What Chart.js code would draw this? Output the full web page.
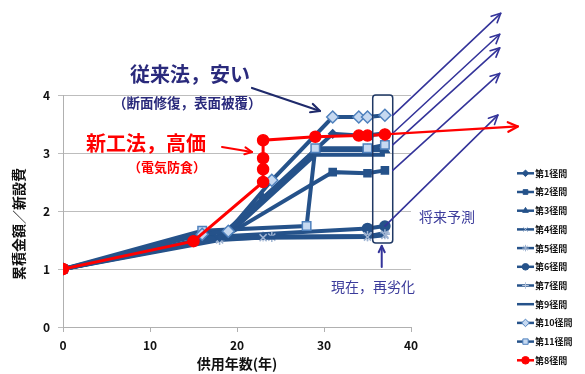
<!DOCTYPE html>
<html>
<head>
<meta charset="utf-8">
<script src="https://cdn.jsdelivr.net/npm/chart.js@4"></script>
<style>
  html, body { margin: 0; padding: 0; background: #fff; }
  #wrap { width: 585px; height: 374px; }
</style>
</head>
<body>
<div id="wrap"><canvas id="c" width="585" height="374"></canvas></div>
<script>
// Cumulative repair cost / construction cost by span, against years in service
const spanNames = ['第1径間','第2径間','第3径間','第4径間','第5径間','第6径間','第7径間','第9径間','第10径間','第11径間','第8径間'];

const years1  = [0, 18, 23, 31, 34, 35, 37];
const cost1   = [1, 1.55, 2.23, 3.33, 3.30, 3.30, 3.34];
const years2  = [0, 19, 31, 35, 37];
const cost2   = [1, 1.60, 2.67, 2.65, 2.70];
const years3  = [0, 19, 29, 35, 37];
const cost3   = [1, 1.60, 3.05, 3.05, 3.05];
const years4  = [0, 18, 23, 35, 37];
const cost4   = [1, 1.52, 1.54, 1.55, 1.58];
const years5  = [0, 18, 24, 35, 37];
const cost5   = [1, 1.50, 1.55, 1.57, 1.60];
const years6  = [0, 17, 35, 37];
const cost6   = [1, 1.55, 1.70, 1.74];
const years7  = [0, 18, 23, 35, 37];
const cost7   = [1, 1.55, 1.56, 1.56, 1.62];
const years9  = [0, 19, 29, 35, 37];
const cost9   = [1, 1.60, 2.97, 2.97, 2.97];
const years10 = [0, 16, 19, 24, 31, 34, 35, 37];
const cost10  = [1, 1.60, 1.65, 2.53, 3.62, 3.62, 3.62, 3.65];
const years11 = [0, 16, 28, 29, 35, 37];
const cost11  = [1, 1.66, 1.74, 3.08, 3.08, 3.14];
const years8  = [0, 15, 23, 23, 23, 23, 29, 34, 35, 37];
const cost8   = [1, 1.48, 2.50, 2.72, 2.91, 3.22, 3.28, 3.30, 3.30, 3.32];

const xTicks = [0, 10, 20, 30, 40];
const yTicks = [0, 1, 2, 3, 4];

const FONT = '"Noto Sans CJK JP", "Noto Sans", sans-serif';
const NAVY = '#25528a';
const LIGHT = '#c6d9f1';
const LIGHT_EDGE = '#4f81bd';

const pts = (xs, ys) => xs.map((x, i) => ({ x, y: ys[i] }));

const datasets = [
  { label: spanNames[0],  data: pts(years1, cost1),   pointStyle: 'rectRot',  pointRadius: 4, backgroundColor: NAVY, borderColor: NAVY, order: 3 },
  { label: spanNames[1],  data: pts(years2, cost2),   pointStyle: 'rect',     pointRadius: 5, backgroundColor: NAVY, borderColor: NAVY, order: 3 },
  { label: spanNames[2],  data: pts(years3, cost3),   pointStyle: 'triangle', pointRadius: 5, backgroundColor: NAVY, borderColor: NAVY, order: 3 },
  { label: spanNames[3],  data: pts(years4, cost4),   pointStyle: 'crossRot', pointRadius: 5, backgroundColor: NAVY, borderColor: NAVY, pointBorderColor: '#9fb4d2', order: 3 },
  { label: spanNames[4],  data: pts(years5, cost5),   pointStyle: 'star',     pointRadius: 5, backgroundColor: NAVY, borderColor: NAVY, pointBorderColor: '#9fb4d2', order: 3 },
  { label: spanNames[5],  data: pts(years6, cost6),   pointStyle: 'circle',   pointRadius: 5, backgroundColor: NAVY, borderColor: NAVY, order: 3 },
  { label: spanNames[6],  data: pts(years7, cost7),   pointStyle: 'cross',    pointRadius: 5, backgroundColor: NAVY, borderColor: NAVY, pointBorderColor: '#b4c5de', order: 3 },
  { label: spanNames[7],  data: pts(years9, cost9),   pointStyle: 'circle',   pointRadius: 0, backgroundColor: NAVY, borderColor: NAVY, order: 3 },
  { label: spanNames[8],  data: pts(years10, cost10), pointStyle: 'rectRot',  pointRadius: 6, backgroundColor: LIGHT, borderColor: NAVY, pointBorderColor: LIGHT_EDGE, order: 1 },
  { label: spanNames[9],  data: pts(years11, cost11), pointStyle: 'rect',     pointRadius: 6, backgroundColor: LIGHT, borderColor: NAVY, pointBorderColor: LIGHT_EDGE, order: 2 },
  { label: spanNames[10], data: pts(years8, cost8),   pointStyle: 'circle',   pointRadius: 5.5, backgroundColor: '#ff0000', borderColor: '#ff0000', order: 0, borderWidth: 3 }
].map(d => Object.assign({
  showLine: true,
  tension: 0,
  borderWidth: 4,
  pointBorderWidth: 1.5,
  pointBackgroundColor: d.backgroundColor,
  pointBorderColor: d.pointBorderColor || d.borderColor
}, d));

function arrow(ctx, x1, y1, x2, y2, color, lw, head) {
  const a = Math.atan2(y2 - y1, x2 - x1);
  ctx.strokeStyle = color;
  ctx.lineWidth = lw;
  ctx.lineCap = 'round';
  ctx.lineJoin = 'round';
  ctx.beginPath();
  ctx.moveTo(x1, y1);
  ctx.lineTo(x2, y2);
  ctx.stroke();
  ctx.beginPath();
  ctx.moveTo(x2 - head * Math.cos(a - 0.45), y2 - head * Math.sin(a - 0.45));
  ctx.lineTo(x2, y2);
  ctx.lineTo(x2 - head * Math.cos(a + 0.45), y2 - head * Math.sin(a + 0.45));
  ctx.stroke();
}

// Callouts, the "now" frame and the forecast arrows
const notes = {
  id: 'notes',
  afterDatasetsDraw(chart) {
    const ctx = chart.ctx;
    const xs = chart.scales.x, ys = chart.scales.y;
    const px = v => xs.getPixelForValue(v), py = v => ys.getPixelForValue(v);
    ctx.save();

    // frame around the present year
    const rl = px(35.6), rr = px(37.9), rt = py(4.0), rb = py(1.45);
    ctx.strokeStyle = '#1f3864';
    ctx.lineWidth = 1.5;
    ctx.beginPath();
    ctx.roundRect(rl, rt, rr - rl, rb - rt, 3);
    ctx.stroke();

    // forecast arrows for the conventional method
    const last = (arr) => arr[arr.length - 1];
    const fc = '#34349a';
    [[cost10, 108, 102], [cost1, 107, 99], [cost11, 107, 97], [cost2, 107, 97]].forEach(([c, dx, dy]) => {
      const y0 = py(last(c));
      arrow(ctx, rr, y0, rr + dx, y0 - dy, fc, 1.6, 10);
    });
    const bx = px(last(years6)), by = py(last(cost6));
    arrow(ctx, bx, by, bx + 113, by - 111, fc, 1.6, 10);

    // forecast arrow for the new method
    const rx = px(last(years8)), ry = py(last(cost8));
    arrow(ctx, rx, ry, rx + 133, ry - 8, '#ff0000', 2.2, 11);

    // "now" pointer
    arrow(ctx, (rl + rr) / 2 - 1, rb + 24, (rl + rr) / 2 - 1, rb + 3, '#34349a', 2, 7);

    // callout arrows
    arrow(ctx, 252, 88, 320, 111, '#1f2a6b', 2.2, 10);
    arrow(ctx, 222, 147, 252, 152, '#ff0000', 2, 8);

    // texts
    ctx.textBaseline = 'middle';
    ctx.textAlign = 'left';
    ctx.fillStyle = '#2a2a7c';
    ctx.font = 'bold 20px ' + FONT;
    ctx.fillText('従来法，安い', 130, 74);
    ctx.font = 'bold 13.5px ' + FONT;
    ctx.fillText('（断面修復，表面被覆）', 113, 103);
    ctx.fillStyle = '#ff0000';
    ctx.font = 'bold 20px ' + FONT;
    ctx.fillText('新工法，高価', 86, 143);
    ctx.font = 'bold 13px ' + FONT;
    ctx.fillText('（電気防食）', 128, 167);

    ctx.fillStyle = '#3b3b9b';
    ctx.font = '14px ' + FONT;
    ctx.fillText('将来予測', 419, 217);
    ctx.fillText('現在，再劣化', 331, 287);

    // axis titles
    ctx.fillStyle = '#111';
    ctx.font = 'bold 14px ' + FONT;
    ctx.textAlign = 'center';
    ctx.fillText('供用年数(年)', (chart.chartArea.left + chart.chartArea.right) / 2, 364);
    ctx.translate(19, 224);
    ctx.rotate(-Math.PI / 2);
    ctx.fillText('累積金額／新設費', 0, 0);
    ctx.restore();
  },
  afterDraw(chart) {
    // legend with line + marker samples
    const ctx = chart.ctx;
    ctx.save();
    chart.data.datasets.forEach((d, i) => {
      const y = 173.3 + i * 18.7;
      ctx.strokeStyle = d.borderColor;
      ctx.lineWidth = 2.5;
      ctx.beginPath();
      ctx.moveTo(517, y);
      ctx.lineTo(534, y);
      ctx.stroke();
      if (d.pointRadius > 0) {
        ctx.fillStyle = d.pointBackgroundColor;
        ctx.strokeStyle = d.pointBorderColor;
        ctx.lineWidth = 1;
        Chart.helpers.drawPoint(ctx, {
          pointStyle: d.pointStyle,
          radius: d.pointRadius >= 5.5 ? 3.8 : 3.3,
          rotation: 0,
          borderWidth: 1
        }, 525.5, y);
      }
      ctx.fillStyle = '#111';
      ctx.font = 'bold 9px ' + FONT;
      ctx.textBaseline = 'middle';
      ctx.textAlign = 'left';
      ctx.fillText(d.label, 535, y);
    });
    ctx.restore();
  }
};

new Chart(document.getElementById('c'), {
  type: 'scatter',
  data: { datasets },
  options: {
    responsive: false,
    animation: false,
    events: [],
    layout: { padding: { top: 95, right: 174, left: 0, bottom: 0 } },
    plugins: { legend: { display: false }, tooltip: { enabled: false } },
    scales: {
      x: {
        type: 'linear',
        min: 0, max: 40,
        afterFit: s => { s.height = 47; },
        afterBuildTicks: s => { s.ticks = xTicks.map(v => ({ value: v })); },
        grid: { drawOnChartArea: false, drawTicks: true, tickLength: 5, color: '#b0b0b0' },
        border: { color: '#b0b0b0' },
        ticks: { padding: 6, color: '#111', font: { family: FONT, size: 12, weight: 'bold' } }
      },
      y: {
        type: 'linear',
        min: 0, max: 4,
        afterFit: s => { s.width = 63; },
        afterBuildTicks: s => { s.ticks = yTicks.map(v => ({ value: v })); },
        grid: { drawTicks: true, tickLength: 5, color: '#bdbdbd' },
        border: { color: '#b0b0b0' },
        ticks: { padding: 8, color: '#111', font: { family: FONT, size: 12, weight: 'bold' } }
      }
    }
  },
  plugins: [notes]
});
</script>
</body>
</html>
